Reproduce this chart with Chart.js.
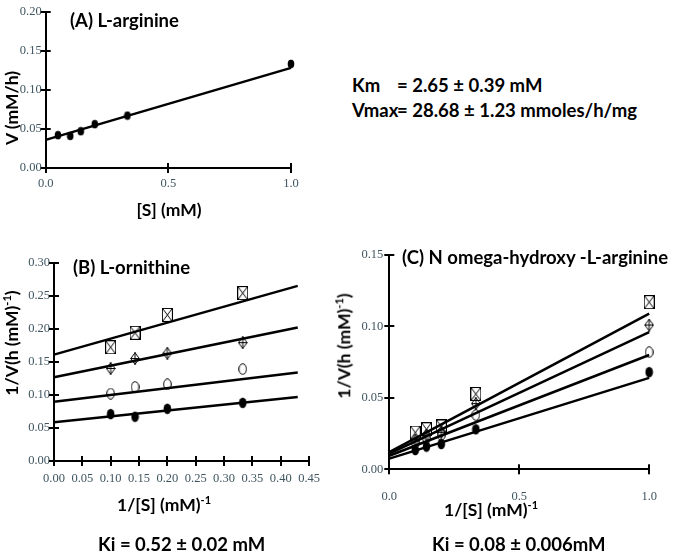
<!DOCTYPE html>
<html>
<head>
<meta charset="utf-8">
<script src="https://cdn.jsdelivr.net/npm/chart.js@4.4.0/dist/chart.umd.min.js"></script>
<style>
  html, body { margin: 0; padding: 0; background: #fff; }
  #wrap { position: relative; width: 677px; height: 555px; overflow: hidden; }
  canvas { position: absolute; }
  .txt { position: absolute; font-family: Lato, 'Open Sans', sans-serif; font-weight: bold;
         color: #000; white-space: nowrap; line-height: 1; }
  .ttl { font-size: 18.5px; transform: translateY(-50%); }
  .ax { font-size: 17.5px; transform: translate(-50%, -50%); }
  .rot { transform: translate(-50%, -50%) rotate(-90deg); }
  .lbl { display: inline-block; width: 45px; }
  sup { font-size: 11px; vertical-align: 7px; line-height: 0; }
</style>
</head>
<body>
<div id="wrap">
  <canvas id="chartA" width="310" height="200" style="left:0;top:0"></canvas>
  <canvas id="chartB" width="330" height="255" style="left:0;top:240px"></canvas>
  <canvas id="chartC" width="337" height="275" style="left:340px;top:240px"></canvas>

  <div class="txt ttl" style="left:70px;top:20px">(A) L-arginine</div>
  <div class="txt ax rot" style="left:12px;top:108px">V (mM/h)</div>
  <div class="txt ax" style="left:169px;top:210px">[S] (mM)</div>

  <div class="txt ttl" style="left:352px;top:85px"><span class="lbl">Km</span>= 2.65 ± 0.39 mM</div>
  <div class="txt ttl" style="left:352px;top:110px"><span class="lbl">Vmax</span>= 28.68 ± 1.23 mmoles/h/mg</div>

  <div class="txt ttl" style="left:73px;top:267px">(B) L-ornithine</div>
  <div class="txt ax rot" style="left:12px;top:343px">1/V(h (mM)<sup>-1</sup>)</div>
  <div class="txt ax" style="left:164px;top:505px">1/[S] (mM)<sup>-1</sup></div>
  <div class="txt ttl" style="left:98px;top:544px">Ki = 0.52 ± 0.02 mM</div>

  <div class="txt ttl" style="left:402px;top:257px">(C) N omega-hydroxy -L-arginine</div>
  <div class="txt ax rot" style="left:344px;top:346px">1/V(h (mM)<sup>-1</sup>)</div>
  <div class="txt ax" style="left:491px;top:510px">1/[S] (mM)<sup>-1</sup></div>
  <div class="txt ttl" style="left:432px;top:544px">Ki = 0.08 ± 0.006mM</div>
</div>

<script>
// ---- (A) L-arginine ----
const aS = [0.05, 0.1, 0.143, 0.2, 0.333, 1.0];
const aV = [0.042, 0.041, 0.047, 0.056, 0.067, 0.133];
const aFitX = [0, 1];
const aFitY = [0.036, 0.128];

// ---- (B) L-ornithine ----
const bX = [0.1, 0.143, 0.2, 0.333];
const bFilled = [0.071, 0.067, 0.079, 0.088];
const bOpen = [0.102, 0.112, 0.116, 0.139];
const bDiamond = [0.140, 0.155, 0.163, 0.179];
const bBox = [0.172, 0.194, 0.221, 0.254];
const bFitX = [0, 0.43];
const bFitFilled = [0.0585, 0.097];
const bFitOpen = [0.0897, 0.134];
const bFitDiamond = [0.1266, 0.202];
const bFitBox = [0.161, 0.265];

// ---- (C) N omega-hydroxy-L-arginine ----
const cX = [0.1, 0.143, 0.2, 0.333, 1.0];
const cFilled = [0.0135, 0.0159, 0.0177, 0.028, 0.068];
const cOpen = [0.0187, 0.0217, 0.024, 0.038, 0.082];
const cDiamond = [0.0205, 0.024, 0.026, 0.046, 0.101];
const cBox = [0.0257, 0.028, 0.030, 0.0527, 0.117];
const cFitX = [0, 1];
const cFitFilled = [0.0075, 0.064];
const cFitOpen = [0.0095, 0.080];
const cFitDiamond = [0.011, 0.096];
const cFitBox = [0.012, 0.109];

const TICK_FONT = { family: "'Liberation Serif', 'DejaVu Serif', serif", size: 12.5 };
const TICK_COLOR = '#3f5560';
const TICK_LEN = 5;

// Hand-drawn marker glyphs so the four inhibitor levels look like the Excel originals.
function marker(type, w, h) {
  const c = document.createElement('canvas');
  c.width = w; c.height = h;
  const ctx = c.getContext('2d');
  ctx.strokeStyle = '#000';
  ctx.fillStyle = '#000';
  ctx.lineWidth = 1;
  if (type === 'filled' || type === 'open') {
    ctx.beginPath();
    ctx.ellipse(w / 2, h / 2, w / 2 - 0.7, h / 2 - 0.7, 0, 0, Math.PI * 2);
    type === 'filled' ? ctx.fill() : ctx.stroke();
  } else if (type === 'diamond') {
    ctx.beginPath();
    ctx.moveTo(w / 2, 0.7); ctx.lineTo(w - 0.7, h / 2);
    ctx.lineTo(w / 2, h - 0.7); ctx.lineTo(0.7, h / 2); ctx.closePath();
    ctx.moveTo(w / 2, 0); ctx.lineTo(w / 2, h);
    ctx.moveTo(0.7, h / 2); ctx.lineTo(w - 0.7, h / 2);
    ctx.stroke();
  } else if (type === 'box') {
    ctx.strokeRect(0.5, 0.5, w - 1, h - 1);
    ctx.beginPath();
    ctx.moveTo(1, 1); ctx.lineTo(w - 1, h - 1);
    ctx.moveTo(w - 1, 1); ctx.lineTo(1, h - 1);
    ctx.stroke();
  }
  return c;
}

const pts = (xs, ys) => xs.map((x, i) => ({ x, y: ys[i] }));

function scatter(xs, ys, style) {
  return { type: 'scatter', data: pts(xs, ys), pointStyle: style, pointRadius: 6,
           showLine: false, clip: false };
}
function fit(xs, ys) {
  return { type: 'line', data: pts(xs, ys), borderColor: '#000', borderWidth: 2.5,
           pointRadius: 0, clip: false };
}

// Excel-style tick marks that cross the axis line, placed from the scales' own ticks.
const crossTicks = {
  id: 'crossTicks',
  afterDraw(chart) {
    const ctx = chart.ctx;
    const area = chart.chartArea;
    const xs = chart.scales.x;
    const ys = chart.scales.y;
    ctx.save();
    ctx.fillStyle = '#000';
    xs.ticks.forEach((t) => {
      const p = Math.round(xs.getPixelForValue(t.value));
      ctx.fillRect(p - 1, area.bottom - TICK_LEN, 2, TICK_LEN * 2);
    });
    ys.ticks.forEach((t) => {
      const p = Math.round(ys.getPixelForValue(t.value));
      ctx.fillRect(area.left - TICK_LEN, p - 1, TICK_LEN * 2, 2);
    });
    ctx.restore();
  }
};
Chart.register(crossTicks);

function axis(min, max, step, digits, pad, fitSize, horizontal) {
  return {
    type: 'linear', min, max,
    grid: { display: false, drawTicks: false, tickLength: 0 },
    border: { display: true, color: '#000', width: 2 },
    ticks: {
      stepSize: step, padding: pad, color: TICK_COLOR, font: TICK_FONT,
      maxRotation: 0, autoSkip: false,
      callback: (v) => Number(v).toFixed(digits)
    },
    afterFit: (s) => { if (horizontal) s.height = fitSize; else s.width = fitSize; }
  };
}

function makeChart(id, datasets, opts) {
  return new Chart(document.getElementById(id), {
    type: 'scatter',
    data: { datasets },
    options: {
      responsive: false,
      animation: false,
      layout: { padding: { left: 0, top: opts.top, right: opts.right, bottom: 0 } },
      plugins: { legend: { display: false }, tooltip: { enabled: false } },
      scales: {
        x: axis(opts.xMin, opts.xMax, opts.xStep, opts.xDigits, opts.xPad, opts.xH, true),
        y: axis(opts.yMin, opts.yMax, opts.yStep, 2, opts.yPad, opts.yW, false)
      }
    }
  });
}

const mA = marker('filled', 8, 10);
const mFilled = marker('filled', 9, 12);
const mOpen = marker('open', 9, 12);
const mDiamond = marker('diamond', 10, 13);
const mBox = marker('box', 11, 14);

makeChart('chartA', [fit(aFitX, aFitY), scatter(aS, aV, mA)], {
  top: 7, right: 19, xMin: 0, xMax: 1, xStep: 0.5, xDigits: 1, xPad: 8, xH: 32,
  yMin: 0, yMax: 0.2, yStep: 0.05, yPad: 4, yW: 45.7
});

makeChart('chartB', [
  fit(bFitX, bFitFilled), fit(bFitX, bFitOpen), fit(bFitX, bFitDiamond), fit(bFitX, bFitBox),
  scatter(bX, bFilled, mFilled), scatter(bX, bOpen, mOpen),
  scatter(bX, bDiamond, mDiamond), scatter(bX, bBox, mBox)
], {
  top: 22.7, right: 18.3, xMin: 0, xMax: 0.45, xStep: 0.05, xDigits: 2, xPad: 10, xH: 34,
  yMin: 0, yMax: 0.3, yStep: 0.05, yPad: 4, yW: 54
});

makeChart('chartC', [
  fit(cFitX, cFitFilled), fit(cFitX, cFitOpen), fit(cFitX, cFitDiamond), fit(cFitX, cFitBox),
  scatter(cX, cFilled, mFilled), scatter(cX, cOpen, mOpen),
  scatter(cX, cDiamond, mDiamond), scatter(cX, cBox, mBox)
], {
  top: 15, right: 26.3, xMin: 0, xMax: 1, xStep: 0.5, xDigits: 1, xPad: 20, xH: 45.7,
  yMin: 0, yMax: 0.15, yStep: 0.05, yPad: 6, yW: 49.3
});
</script>
</body>
</html>
